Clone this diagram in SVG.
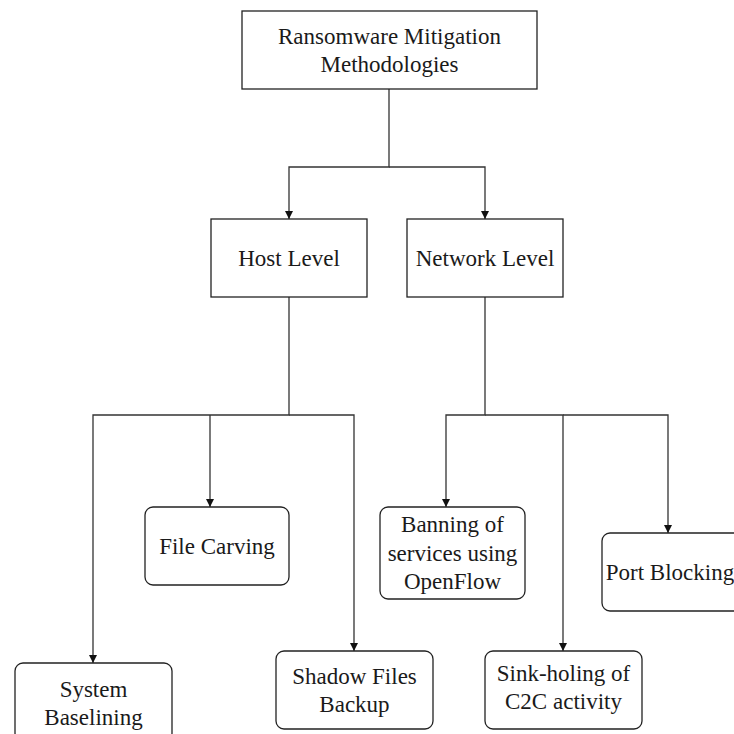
<svg xmlns="http://www.w3.org/2000/svg" width="734" height="734" viewBox="0 0 734 734">
<style>
.box{fill:#fff;stroke:#222;stroke-width:1.3}
.lbl{font-family:'Liberation Serif','Times New Roman',Times,serif;font-size:23px;fill:#1a1a1a;text-anchor:middle}
.con{fill:none;stroke:#333;stroke-width:1.3}
</style>
<defs>
<marker id="ah" markerWidth="10" markerHeight="10" refX="9" refY="5" orient="auto" markerUnits="userSpaceOnUse">
<path d="M1,1 L9,5 L1,9 Z" fill="#111"/>
</marker>
</defs>
<rect width="734" height="734" fill="#fff"/>
<g id="connectors">
<path class="con" d="M389,89 V167 H289 V219" marker-end="url(#ah)"/>
<path class="con" d="M389,167 H485 V219" marker-end="url(#ah)"/>
<path class="con" d="M289,297 V415 H93 V663" marker-end="url(#ah)"/>
<path class="con" d="M210,415 V507" marker-end="url(#ah)"/>
<path class="con" d="M289,415 H354 V651" marker-end="url(#ah)"/>
<path class="con" d="M485,297 V415 H446 V507" marker-end="url(#ah)"/>
<path class="con" d="M485,415 H563 V651" marker-end="url(#ah)"/>
<path class="con" d="M563,415 H668 V533" marker-end="url(#ah)"/>
</g>
<g id="root">
<rect class="box" x="242" y="11" width="295" height="78"/>
<text class="lbl" font-family="Liberation Serif" x="389.5" y="44">Ransomware Mitigation</text>
<text class="lbl" font-family="Liberation Serif" x="389.5" y="72">Methodologies</text>
</g>
<g id="host">
<rect class="box" x="211" y="219" width="156" height="78"/>
<text class="lbl" x="289" y="266">Host Level</text>
</g>
<g id="network">
<rect class="box" x="407" y="219" width="156" height="78"/>
<text class="lbl" x="485" y="266">Network Level</text>
</g>
<g id="filecarving">
<rect class="box" x="145" y="507" width="144" height="78" rx="8"/>
<text class="lbl" x="217" y="554">File Carving</text>
</g>
<g id="baselining">
<rect class="box" x="15" y="663" width="157" height="78" rx="8"/>
<text class="lbl" x="93.5" y="697">System</text>
<text class="lbl" x="93.5" y="725">Baselining</text>
</g>
<g id="shadow">
<rect class="box" x="276" y="651" width="157" height="78" rx="8"/>
<text class="lbl" x="354.5" y="684">Shadow Files</text>
<text class="lbl" x="354.5" y="712">Backup</text>
</g>
<g id="banning">
<rect class="box" x="380" y="507" width="145" height="92" rx="8"/>
<text class="lbl" x="452.5" y="532">Banning of</text>
<text class="lbl" x="452.5" y="561">services using</text>
<text class="lbl" x="452.5" y="589">OpenFlow</text>
</g>
<g id="sinkholing">
<rect class="box" x="485" y="651" width="157" height="78" rx="8"/>
<text class="lbl" x="563.5" y="681">Sink-holing of</text>
<text class="lbl" x="563.5" y="709">C2C activity</text>
</g>
<g id="portblocking">
<rect class="box" x="602" y="533" width="157" height="78" rx="8"/>
<text class="lbl" x="670" y="580">Port Blocking</text>
</g>
</svg>
